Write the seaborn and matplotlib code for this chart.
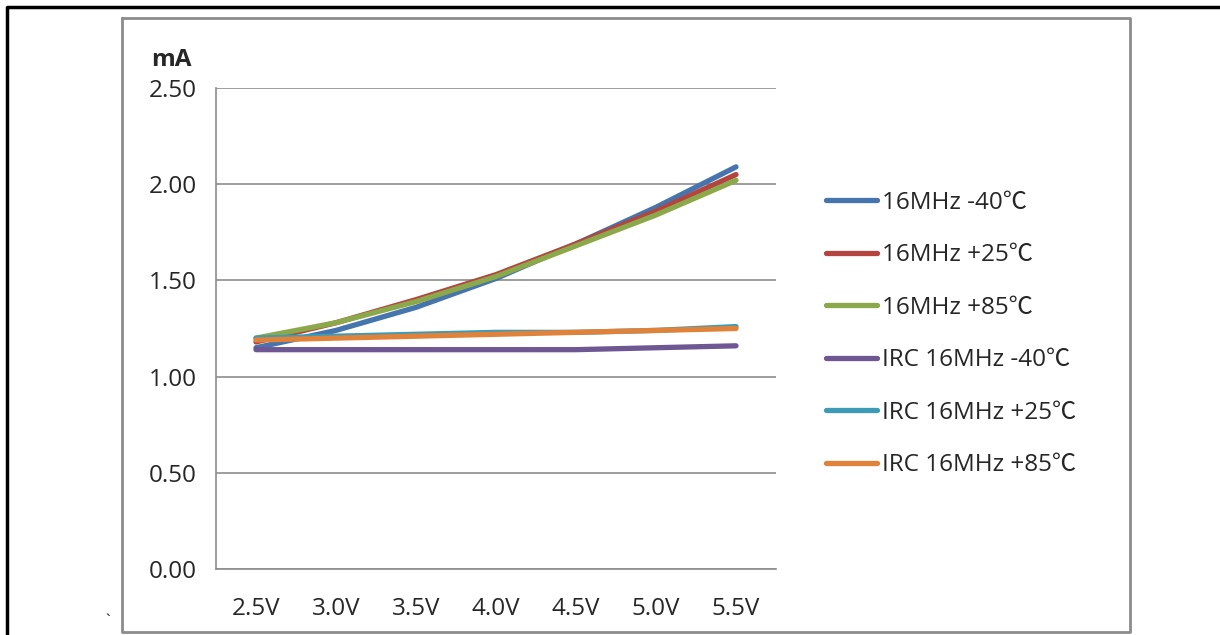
import pandas as pd
import numpy as np
import matplotlib
matplotlib.use("Agg")
import matplotlib.pyplot as plt
import seaborn as sns
from matplotlib.lines import Line2D
from matplotlib.ticker import FixedLocator, FormatStrFormatter

# data (mA)
voltages = ["2.5V", "3.0V", "3.5V", "4.0V", "4.5V", "5.0V", "5.5V"]
series_names = ["16MHz -40℃", "16MHz +25℃", "16MHz +85℃",
                "IRC 16MHz -40℃", "IRC 16MHz +25℃", "IRC 16MHz +85℃"]
ext_m40 = [1.15, 1.24, 1.36, 1.51, 1.69, 1.88, 2.09]
ext_p25 = [1.18, 1.28, 1.40, 1.53, 1.69, 1.86, 2.05]
ext_p85 = [1.20, 1.28, 1.39, 1.52, 1.68, 1.84, 2.02]
irc_m40 = [1.14, 1.14, 1.14, 1.14, 1.14, 1.15, 1.16]
irc_p25 = [1.20, 1.21, 1.22, 1.23, 1.23, 1.24, 1.26]
irc_p85 = [1.19, 1.20, 1.21, 1.22, 1.23, 1.24, 1.25]
colors = ["#4674AC", "#B3443F", "#8BA84A", "#6E5793", "#3E9BB6", "#E0823A"]

all_vals = [ext_m40, ext_p25, ext_p85, irc_m40, irc_p25, irc_p85]
rows = []
for name, vals in zip(series_names, all_vals):
    for i, v in enumerate(vals):
        rows.append({"x": i, "volt": voltages[i], "series": name, "mA": v})
df = pd.DataFrame(rows)

sns.set_style("white")
plt.rcParams["font.family"] = ["Open Sans", "Noto Sans CJK KR", "DejaVu Sans"]

fs = 17.5
lw = 3.8

fig = plt.figure(figsize=(12.2, 6.35), dpi=100)
ax = fig.add_axes([216 / 1220, (635 - 569) / 635, 560 / 1220, 481 / 635])

sns.lineplot(data=df, x="x", y="mA", hue="series", hue_order=series_names,
             palette=colors, linewidth=lw, sort=False, ax=ax,
             solid_capstyle="round", legend=False)

grid_c = "#8c8c8c"
ax.set_xlim(-0.5, 6.5)
ax.set_ylim(0, 2.5)
ax.set_yticks(np.arange(0, 2.51, 0.5))
ax.yaxis.set_major_formatter(FormatStrFormatter("%.2f"))
ax.yaxis.grid(True, color=grid_c, linewidth=1.2)
ax.set_xticks(range(len(voltages)))
ax.set_xticklabels(voltages)
ax.xaxis.set_minor_locator(FixedLocator(np.arange(-0.5, 6.6, 1)))
ax.tick_params(axis="x", which="major", length=0, pad=20, labelsize=fs)
ax.tick_params(axis="x", which="minor", length=8, color=grid_c, width=1.2, direction="out")
ax.tick_params(axis="y", which="major", length=8, color=grid_c, width=1.2,
               direction="out", pad=6, labelsize=fs)
for s in ["top", "right"]:
    ax.spines[s].set_visible(False)
for s in ["left", "bottom"]:
    ax.spines[s].set_color(grid_c)
    ax.spines[s].set_linewidth(1.2)
ax.set_xlabel("")
ax.set_ylabel("")

# unit label above the axis
fig.text(171 / 1220, 1 - 60 / 635, "mA", ha="center", va="center",
         fontsize=fs, fontweight="bold")

handles = [Line2D([0], [0], color=c, linewidth=lw, solid_capstyle="round") for c in colors]
fig.legend(handles, series_names, loc="upper left",
           bbox_to_anchor=(826 / 1220, 1 - 191 / 635), frameon=False,
           fontsize=fs, handlelength=2.1, handletextpad=0.2,
           labelspacing=1.17, borderpad=0, borderaxespad=0)

# chart area border and page lines
fig.add_artist(Line2D([122 / 1220, 1130 / 1220, 1130 / 1220, 122 / 1220, 122 / 1220],
                      [1 - 18 / 635, 1 - 18 / 635, 1 - 632 / 635, 1 - 632 / 635, 1 - 18 / 635],
                      color="#8c8c8c", linewidth=2, transform=fig.transFigure))
fig.add_artist(Line2D([7 / 1220, 7 / 1220, 1.0],
                      [0.0, 1 - 7 / 635, 1 - 7 / 635],
                      color="black", linewidth=2.5, transform=fig.transFigure))
fig.text(108 / 1220, 1 - 622 / 635, "`", ha="center", va="center", fontsize=12)

fig.savefig("out.png", dpi=100)
